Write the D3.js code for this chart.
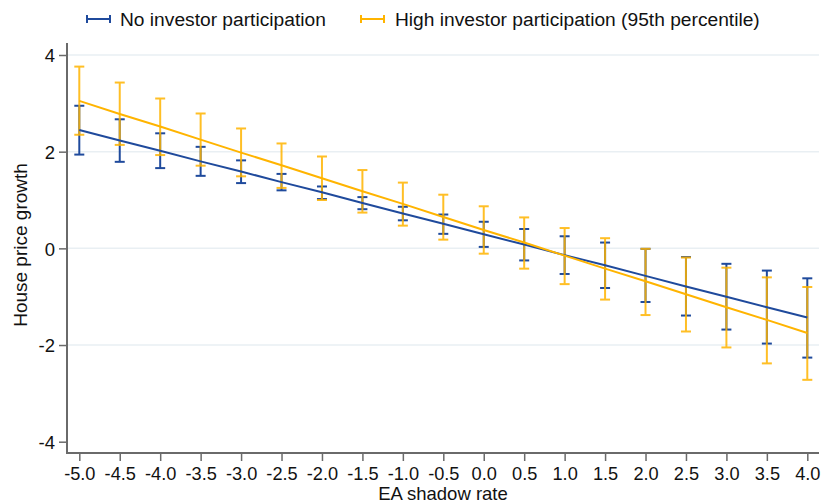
<!DOCTYPE html>
<html>
<head>
<meta charset="utf-8">
<script src="https://cdn.jsdelivr.net/npm/d3@7"></script>
<style>
  html, body { margin: 0; padding: 0; background: #fff; }
  svg { display: block; font-family: Arial, "Liberation Sans", sans-serif; }
</style>
</head>
<body>
<svg id="chart" width="821" height="504"></svg>
<script>
// EA shadow rate grid
const shadowRate = [-5.0, -4.5, -4.0, -3.5, -3.0, -2.5, -2.0, -1.5, -1.0, -0.5,
                    0.0, 0.5, 1.0, 1.5, 2.0, 2.5, 3.0, 3.5, 4.0];

// Predicted house price growth, no investor participation
const noInvEst = [2.45, 2.23, 2.02, 1.80, 1.59, 1.37, 1.16, 0.94, 0.72, 0.51,
                  0.29, 0.08, -0.14, -0.35, -0.57, -0.79, -1.00, -1.22, -1.43];
const noInvLo  = [1.94, 1.79, 1.66, 1.50, 1.35, 1.20, 1.02, 0.81, 0.58, 0.30,
                  0.03, -0.25, -0.53, -0.82, -1.11, -1.39, -1.68, -1.97, -2.26];
const noInvHi  = [2.95, 2.67, 2.38, 2.10, 1.82, 1.54, 1.28, 1.06, 0.86, 0.70,
                  0.55, 0.40, 0.25, 0.12, -0.01, -0.18, -0.32, -0.46, -0.62];

// Predicted house price growth, high investor participation (95th percentile)
const highInvEst = [3.05, 2.78, 2.52, 2.25, 1.98, 1.72, 1.45, 1.18, 0.92, 0.65,
                    0.38, 0.12, -0.15, -0.42, -0.68, -0.95, -1.22, -1.48, -1.75];
const highInvLo  = [2.35, 2.14, 1.93, 1.71, 1.49, 1.25, 1.00, 0.74, 0.47, 0.18,
                    -0.11, -0.42, -0.74, -1.06, -1.38, -1.72, -2.05, -2.38, -2.72];
const highInvHi  = [3.76, 3.43, 3.10, 2.79, 2.48, 2.17, 1.90, 1.62, 1.36, 1.11,
                    0.87, 0.64, 0.42, 0.21, -0.01, -0.19, -0.40, -0.60, -0.80];

const xTickLabels = ["-5.0", "-4.5", "-4.0", "-3.5", "-3.0", "-2.5", "-2.0", "-1.5", "-1.0",
                     "-0.5", "0.0", "0.5", "1.0", "1.5", "2.0", "2.5", "3.0", "3.5", "4.0"];
const yTicks = [-4, -2, 0, 2, 4];
const gridTicks = [-2, 0, 2, 4];

const seriesNames = ["No investor participation", "High investor participation (95th percentile)"];
const seriesColors = ["#1f4a9c", "#ffb400"];

const series = [
  { name: seriesNames[0], color: seriesColors[0], est: noInvEst, lo: noInvLo, hi: noInvHi, opacity: 1 },
  { name: seriesNames[1], color: seriesColors[1], est: highInvEst, lo: highInvLo, hi: highInvHi, opacity: 0.85 }
];

const svg = d3.select("#chart");

// plot frame
const plotL = 67, plotR = 819, plotT = 43, plotB = 453;

const x = d3.scaleLinear().domain([-5, 4]).range([79.3, 807.3]);
const y = d3.scaleLinear().domain([-4, 4]).range([441.7, 55]);

const axisColor = "#6a6a6a";

// horizontal gridlines
svg.append("g").selectAll("line").data(gridTicks).join("line")
  .attr("x1", plotL).attr("x2", plotR)
  .attr("y1", d => y(d)).attr("y2", d => y(d))
  .attr("stroke", "#e9eff3").attr("stroke-width", 1.5);

// y axis
const yAxis = svg.append("g")
  .attr("transform", `translate(${plotL},0)`)
  .call(d3.axisLeft(y).tickValues(yTicks).tickSize(8).tickPadding(4).tickFormat(d3.format("d")));
yAxis.select(".domain").remove();
yAxis.selectAll(".tick line").attr("stroke", axisColor).attr("stroke-width", 1.5);
yAxis.selectAll(".tick text").attr("font-size", 18.5).attr("fill", "#111")
  .attr("font-family", "Arial, 'Liberation Sans', sans-serif").attr("dy", "0.36em")
  .text((d) => d < 0 ? "-" + Math.abs(d) : String(d));

// x axis
const xAxis = svg.append("g")
  .attr("transform", `translate(0,${plotB})`)
  .call(d3.axisBottom(x).tickValues(shadowRate).tickSize(8).tickPadding(6)
    .tickFormat((d, i) => xTickLabels[i]));
xAxis.select(".domain").remove();
xAxis.selectAll(".tick line").attr("stroke", axisColor).attr("stroke-width", 1.5);
xAxis.selectAll(".tick text").attr("font-size", 18.2).attr("fill", "#111")
  .attr("font-family", "Arial, 'Liberation Sans', sans-serif");

// axis lines
svg.append("line").attr("x1", plotL).attr("x2", plotL).attr("y1", plotT).attr("y2", plotB + 1)
  .attr("stroke", axisColor).attr("stroke-width", 2);
svg.append("line").attr("x1", plotL - 1).attr("x2", plotR).attr("y1", plotB).attr("y2", plotB)
  .attr("stroke", axisColor).attr("stroke-width", 2);

// confidence intervals
const capHalf = 5;
series.forEach(s => {
  const g = svg.append("g").attr("opacity", s.opacity);
  const idx = d3.range(shadowRate.length);
  g.selectAll(".v").data(idx).join("line")
    .attr("x1", i => x(shadowRate[i])).attr("x2", i => x(shadowRate[i]))
    .attr("y1", i => y(s.lo[i])).attr("y2", i => y(s.hi[i]))
    .attr("stroke", s.color).attr("stroke-width", 2);
  ["lo", "hi"].forEach(k => {
    g.selectAll(".c" + k).data(idx).join("line")
      .attr("class", "c" + k)
      .attr("x1", i => x(shadowRate[i]) - capHalf).attr("x2", i => x(shadowRate[i]) + capHalf)
      .attr("y1", i => y(s[k][i])).attr("y2", i => y(s[k][i]))
      .attr("stroke", s.color).attr("stroke-width", 2);
  });
});

// point estimate lines
const line = d3.line().x((d, i) => x(shadowRate[i])).y(d => y(d));
series.forEach(s => {
  svg.append("path").datum(s.est).attr("d", line)
    .attr("fill", "none").attr("stroke", s.color).attr("stroke-width", 2);
});

// legend
const legendItems = [
  { name: seriesNames[0], color: seriesColors[0], x0: 87, x1: 110, tx: 120 },
  { name: seriesNames[1], color: seriesColors[1], x0: 361, x1: 384, tx: 395 }
];
const lg = svg.append("g");
legendItems.forEach(it => {
  const ly = 19;
  lg.append("line").attr("x1", it.x0).attr("x2", it.x1).attr("y1", ly).attr("y2", ly)
    .attr("stroke", it.color).attr("stroke-width", 2);
  [it.x0, it.x1].forEach(px => lg.append("line")
    .attr("x1", px).attr("x2", px).attr("y1", ly - 4).attr("y2", ly + 4)
    .attr("stroke", it.color).attr("stroke-width", 2));
  lg.append("text").attr("x", it.tx).attr("y", 26).attr("font-size", 19.2).attr("fill", "#111")
    .text(it.name);
});

// axis titles
svg.append("text").attr("x", (plotL + plotR) / 2).attr("y", 500)
  .attr("text-anchor", "middle").attr("font-size", 18.5).attr("fill", "#111")
  .text("EA shadow rate");
svg.append("text")
  .attr("transform", `translate(27,${(plotT + plotB) / 2 - 3}) rotate(-90)`)
  .attr("text-anchor", "middle").attr("font-size", 19).attr("fill", "#111")
  .text("House price growth");
</script>
</body>
</html>
